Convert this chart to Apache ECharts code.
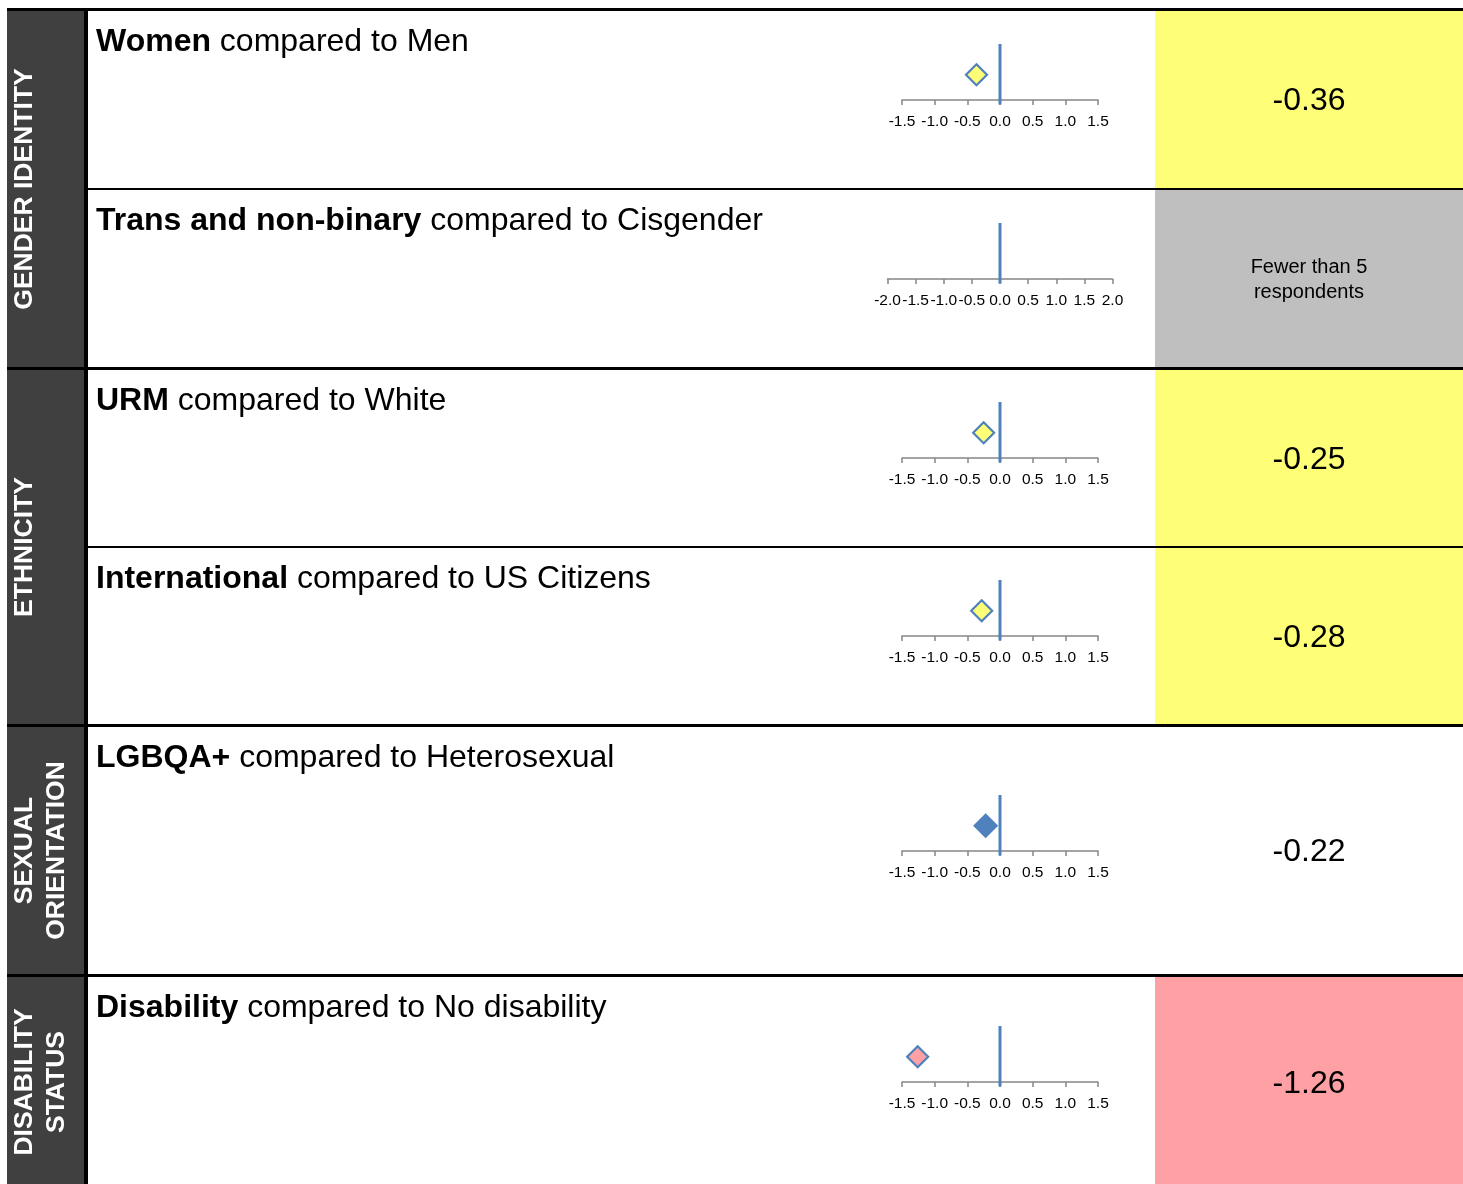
<!DOCTYPE html>
<html>
<head>
<meta charset="utf-8">
<script src="https://cdn.jsdelivr.net/npm/echarts@6/dist/echarts.min.js"></script>
<style>
html,body{margin:0;padding:0;background:#fff;}
#chart{width:1463px;height:1184px;}
</style>
</head>
<body>
<div id="chart"></div>
<script>
// ---- data ----
const groupLabels = ['GENDER IDENTITY', 'ETHNICITY', 'SEXUAL\nORIENTATION', 'DISABILITY\nSTATUS'];
const groupRowCounts = [2, 2, 1, 1];
const boldText = ['Women', 'Trans and non-binary', 'URM', 'International', 'LGBQA+', 'Disability'];
const restText = [' compared to Men', ' compared to Cisgender', ' compared to White', ' compared to US Citizens', ' compared to Heterosexual', ' compared to No disability'];
const values = [-0.36, null, -0.25, -0.28, -0.22, -1.26];
const cellText = ['-0.36', 'Fewer than 5\nrespondents', '-0.25', '-0.28', '-0.22', '-1.26'];
const rating = ['low', 'na', 'low', 'low', 'neutral', 'verylow'];
const axisRange = [1.5, 2.0, 1.5, 1.5, 1.5, 1.5];

// ---- layout / style ----
const rowTop = [11, 190, 370, 548, 727, 977];
const rowBot = [188, 367, 546, 724, 974, 1187];
const cellFill = { low: '#FFFF77', na: '#BFBFBF', neutral: '#FFFFFF', verylow: '#FFA1A4' };
const markFill = { low: '#FFFF77', na: '#BFBFBF', neutral: '#4F81BD', verylow: '#FFA1A4' };
const BLUE = '#4F81BD';
const W = 1463;

const chart = echarts.init(document.getElementById('chart'), null, { renderer: 'canvas' });

const graphic = [];
// right coloured cells
rowTop.forEach((t, i) => {
  graphic.push({ type: 'rect', z: 0, shape: { x: 1155, y: t, width: W - 1155, height: rowBot[i] - t }, style: { fill: cellFill[rating[i]] } });
  const na = rating[i] === 'na';
  const fs = na ? 20 : 32;
  graphic.push({ type: 'text', z: 5, x: 1309, y: (t + rowBot[i]) / 2 + (na ? 1 : 2),
    style: { text: cellText[i], font: fs + 'px "Liberation Sans", Arial, sans-serif', fill: '#000', align: 'center', verticalAlign: 'middle', lineHeight: na ? 25 : fs } });
  graphic.push({ type: 'text', z: 5, x: 96, y: t + 31,
    style: { text: '{b|' + boldText[i] + '}{r|' + restText[i] + '}', verticalAlign: 'middle',
      rich: { b: { font: 'bold 32px "Liberation Sans", Arial, sans-serif', fill: '#000' }, r: { font: '32px "Liberation Sans", Arial, sans-serif', fill: '#000' } } } });
});
// left group column
graphic.push({ type: 'rect', z: 1, shape: { x: 7, y: 8, width: 78, height: 1184 }, style: { fill: '#404040' } });
graphic.push({ type: 'rect', z: 3, shape: { x: 84, y: 8, width: 4, height: 1184 }, style: { fill: '#000' } });
let ri = 0;
groupLabels.forEach((g, gi) => {
  const t = rowTop[ri];
  const b = rowBot[ri + groupRowCounts[gi] - 1];
  ri += groupRowCounts[gi];
  const twoLine = g.indexOf('\n') >= 0;
  graphic.push({ type: 'text', z: 5, x: twoLine ? 41 : 25, y: (t + b) / 2, rotation: Math.PI / 2,
    style: { text: g, font: 'bold 26.5px "Liberation Sans", Arial, sans-serif', fill: '#FFFFFF', align: 'center', verticalAlign: 'middle', lineHeight: 32 } });
});
// separators
graphic.push({ type: 'rect', z: 4, shape: { x: 7, y: 8, width: W - 7, height: 3 }, style: { fill: '#000' } });
[[188, 2], [546, 2]].forEach(s => graphic.push({ type: 'rect', z: 4, shape: { x: 88, y: s[0], width: W - 88, height: s[1] }, style: { fill: '#000' } }));
[[367, 3], [724, 3], [974, 3]].forEach(s => graphic.push({ type: 'rect', z: 4, shape: { x: 7, y: s[0], width: W - 7, height: s[1] }, style: { fill: '#000' } }));

// mini charts
const grids = [], xAxes = [], yAxes = [], series = [];
rowTop.forEach((t, i) => {
  const r = axisRange[i];
  const pxPerUnit = r === 1.5 ? 196 / 3 : 225 / 4;
  const axisY = Math.round((t + Math.min(rowBot[i], 1187)) / 2);
  const left = 1000 - r * pxPerUnit;
  grids.push({ left: left, top: axisY - 56, width: 2 * r * pxPerUnit, height: 56, containLabel: false });
  xAxes.push({ gridIndex: i, type: 'value', min: -r, max: r, interval: 0.5,
    axisLine: { show: true, lineStyle: { color: '#868686', width: 1.5 } },
    axisTick: { show: true, length: 5, lineStyle: { color: '#868686', width: 1.5 } },
    splitLine: { show: false },
    axisLabel: { margin: 14, color: '#000', fontSize: 15.5, fontFamily: '"Liberation Sans", Arial, sans-serif', formatter: v => v.toFixed(1) } });
  yAxes.push({ gridIndex: i, type: 'value', min: 0, max: 1, show: false });
  series.push({ type: 'line', xAxisIndex: i, yAxisIndex: i, data: [[0, -0.08], [0, 1]], symbol: 'none', clip: false,
    lineStyle: { color: BLUE, width: 3 }, silent: true, z: 3 });
  if (values[i] !== null) {
    series.push({ type: 'scatter', xAxisIndex: i, yAxisIndex: i, data: [[values[i], 0.45]], symbol: 'diamond',
      symbolSize: rating[i] === 'neutral' ? [22, 22] : [21, 21], clip: false, z: 4,
      itemStyle: { color: markFill[rating[i]], borderColor: BLUE, borderWidth: 2.2, opacity: 1 } });
  }
});

chart.setOption({
  backgroundColor: '#ffffff',
  animation: false,
  grid: grids,
  xAxis: xAxes,
  yAxis: yAxes,
  series: series,
  graphic: graphic
});
</script>
</body>
</html>
